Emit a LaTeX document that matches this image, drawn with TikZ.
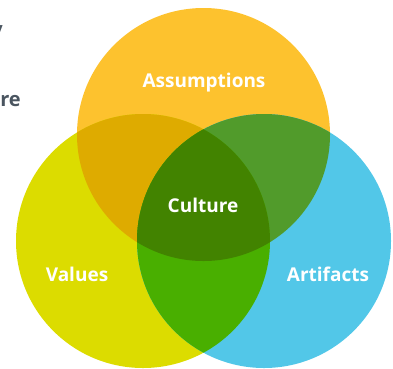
\documentclass[tikz,border=0pt]{standalone}
\usepackage{fontspec}
\setmainfont{Open Sans}
\usepackage{xcolor}
\usetikzlibrary{positioning}
\definecolor{asmp}{HTML}{FDC22E}
\definecolor{vals}{HTML}{DCDC00}
\definecolor{arts}{HTML}{52C7E8}
\definecolor{asmpvals}{HTML}{DEAB00}
\definecolor{asmparts}{HTML}{519B2B}
\definecolor{valsarts}{HTML}{49AF00}
\definecolor{cult}{HTML}{428300}
\definecolor{sidetext}{HTML}{4A5560}

\begin{document}
\begin{tikzpicture}[x=1pt,y=-1pt,
		lbl/.style={text=white, font=\bfseries\fontsize{19}{22}\selectfont},
		side/.style={text=sidetext, font=\bfseries\fontsize{20}{24}\selectfont}
		]
		\useasboundingbox (0,0) rectangle (393,368);
		\coordinate (ca) at (203.5,134.5);
		\coordinate (cv) at (143,241);
		\coordinate (cr) at (264,241);
		% single circles
		\fill[asmp] (ca) circle (126.5pt);
		\fill[vals] (cv) circle (127pt);
		\fill[arts] (cr) circle (127pt);
		% overlaps
		\begin{scope}
			\clip (ca) circle (126.5pt);
			\fill[asmpvals] (cv) circle (127pt);
		\end{scope}
		\begin{scope}
			\clip (ca) circle (126.5pt);
			\fill[asmparts] (cr) circle (127pt);
		\end{scope}
		\begin{scope}
			\clip (cv) circle (127pt);
			\fill[valsarts] (cr) circle (127pt);
		\end{scope}
		\begin{scope}
			\clip (ca) circle (126.5pt);
			\clip (cv) circle (127pt);
			\fill[cult] (cr) circle (127pt);
		\end{scope}
		% labels
		\node[lbl] (assumptions) at (204,83) {Assumptions};
		\node[lbl] (culture) at (203,205) {Culture};
		\node[lbl] (values) at (77,274) {Values};
		\node[lbl] (artifacts) at (328,274) {Artifacts};
		\node[side, anchor=base east, inner sep=0] (re) at (21,106) {re};
		\node[side, anchor=base east, inner sep=0] (yy) at (3,36) {y};
\end{tikzpicture}
\end{document}
